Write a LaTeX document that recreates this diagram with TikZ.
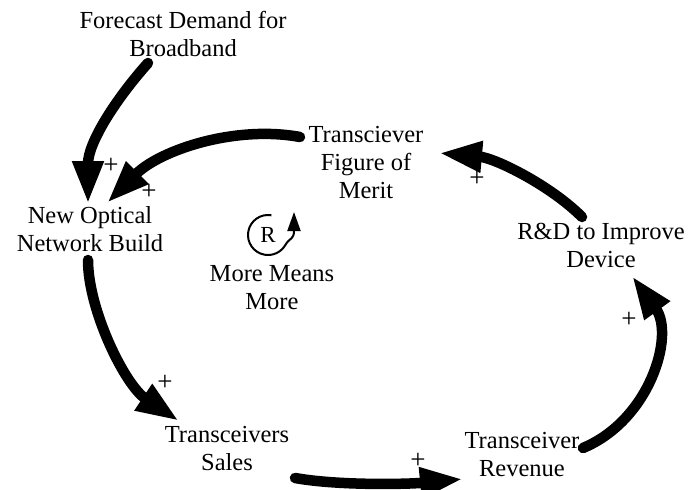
\documentclass[tikz,border=0pt]{standalone}
\usepackage{fontspec}
\setmainfont{Liberation Serif}
\usetikzlibrary{arrows.meta}

\tikzset{
  var/.style={inner sep=0pt, align=center, font=\fontsize{24.5}{28}\selectfont},
  link/.style={line width=10.5pt, line cap=round,
    -{Triangle[length=43pt,width=29pt]}},
  pol/.style={inner sep=0pt, font=\fontsize{27}{30}\selectfont},
  loopmark/.style={line width=2pt, -{Triangle[length=19pt,width=13pt]}}
}

\begin{document}
\begin{tikzpicture}[x=1pt,y=1pt]
  \useasboundingbox (0,0) rectangle (694,-490);

  % variables
  \node[var] (fd)  at (183,-34)  {Forecast Demand for\\Broadband};
  \node[var] (nob) at (90,-229)  {New Optical\\Network Build};
  \node[var] (tf)  at (366,-163) {Transciever\\Figure of\\Merit};
  \node[var] (rd)  at (601,-245) {R\&D to Improve\\Device};
  \node[var] (tr)  at (522,-455) {Transceiver\\Revenue};
  \node[var] (ts)  at (227,-449) {Transceivers\\Sales};
  \node[var] (mmm) at (272,-288) {More Means\\More};

  % connector end points
  \coordinate (fd-o)  at (148,-63);
  \coordinate (nob-a) at (88,-204);
  \coordinate (tf-o)  at (300,-137);
  \coordinate (nob-b) at (107,-203);
  \coordinate (nob-o) at (88,-260);
  \coordinate (ts-i)  at (179,-421);
  \coordinate (ts-o)  at (295,-478);
  \coordinate (tr-i)  at (463,-479);
  \coordinate (tr-o)  at (583,-448);
  \coordinate (rd-i)  at (632,-276);
  \coordinate (rd-o)  at (582,-217);
  \coordinate (tf-i)  at (439,-153);

  % causal links
  \draw[link] (fd-o)  .. controls (115,-100) and (88,-143)  .. (nob-a);
  \draw[link] (tf-o)  .. controls (235,-125) and (160,-150) .. (nob-b);
  \draw[link] (nob-o) .. controls (88,-310)  and (125,-385) .. (ts-i);
  \draw[link] (ts-o)  .. controls (340,-486) and (410,-484) .. (tr-i);
  \draw[link] (tr-o)  .. controls (650,-420) and (675,-335) .. (rd-i);
  \draw[link] (rd-o)  .. controls (550,-185) and (495,-158) .. (tf-i);

  % link polarities
  \node[pol] (p1) at (111,-166) {+};
  \node[pol] (p2) at (149,-192) {+};
  \node[pol] (p3) at (165,-383) {+};
  \node[pol] (p4) at (418,-461) {+};
  \node[pol] (p5) at (629,-320) {+};
  \node[pol] (p6) at (477,-179) {+};

  % reinforcing loop marker
  \coordinate (lc) at (268,-235);
  \node[inner sep=0pt, font=\fontsize{23}{25}\selectfont] (r) at (lc) {R};
  \draw[loopmark] (lc) ++(80:20) arc[start angle=80, end angle=330, radius=20]
    .. controls +(60:9) and (294,-240) .. (294,-212);
\end{tikzpicture}
\end{document}
